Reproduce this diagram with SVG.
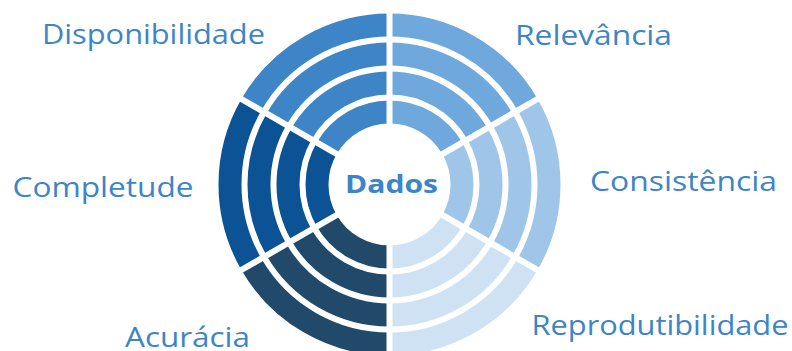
<svg xmlns="http://www.w3.org/2000/svg" width="792" height="351" viewBox="0 0 792 351">
  <style>
    .lbl { font-family: "Open Sans", "Liberation Sans", sans-serif; font-size: 27px; fill: #3d85c6; }
    .ctr { font-family: "Open Sans", "Liberation Sans", sans-serif; font-size: 25px; font-weight: bold; fill: #3d85c6; }
    .ring { fill: none; stroke-width: 23; stroke-linecap: butt; }
  </style>
  <defs>
    <mask id="gaps" maskUnits="userSpaceOnUse" x="0" y="0" width="792" height="351">
      <rect x="0" y="0" width="792" height="351" fill="#fff"/>
      <g stroke="#000" stroke-width="6">
        <line x1="389.5" y1="-10" x2="389.5" y2="370"/>
        <line x1="562.7" y1="84.5" x2="216.3" y2="284.5"/>
        <line x1="562.7" y1="284.5" x2="216.3" y2="84.5"/>
      </g>
    </mask>
  </defs>
  <rect x="0" y="0" width="792" height="351" fill="#ffffff"/>
  <g id="sectors" mask="url(#gaps)">
    <g id="relevancia" class="ring" stroke="#6fa8dc">
      <path d="M389.5,25 A159.5,159.5 0 0 1 527.63,104.75"/>
      <path d="M389.5,54 A130.5,130.5 0 0 1 502.52,119.25"/>
      <path d="M389.5,83 A101.5,101.5 0 0 1 477.40,133.75"/>
      <path d="M389.5,112 A72.5,72.5 0 0 1 452.29,148.25"/>
    </g>
    <g id="consistencia" class="ring" stroke="#9fc5e8">
      <path d="M527.63,104.75 A159.5,159.5 0 0 1 527.63,264.25"/>
      <path d="M502.52,119.25 A130.5,130.5 0 0 1 502.52,249.75"/>
      <path d="M477.40,133.75 A101.5,101.5 0 0 1 477.40,235.25"/>
      <path d="M452.29,148.25 A72.5,72.5 0 0 1 452.29,220.75"/>
    </g>
    <g id="reprodutibilidade" class="ring" stroke="#cfe2f3">
      <path d="M527.63,264.25 A159.5,159.5 0 0 1 389.5,344"/>
      <path d="M502.52,249.75 A130.5,130.5 0 0 1 389.5,315"/>
      <path d="M477.40,235.25 A101.5,101.5 0 0 1 389.5,286"/>
      <path d="M452.29,220.75 A72.5,72.5 0 0 1 389.5,257"/>
    </g>
    <g id="acuracia" class="ring" stroke="#214a6a">
      <path d="M389.5,344 A159.5,159.5 0 0 1 251.37,264.25"/>
      <path d="M389.5,315 A130.5,130.5 0 0 1 276.48,249.75"/>
      <path d="M389.5,286 A101.5,101.5 0 0 1 301.60,235.25"/>
      <path d="M389.5,257 A72.5,72.5 0 0 1 326.71,220.75"/>
    </g>
    <g id="completude" class="ring" stroke="#0b5394">
      <path d="M251.37,264.25 A159.5,159.5 0 0 1 251.37,104.75"/>
      <path d="M276.48,249.75 A130.5,130.5 0 0 1 276.48,119.25"/>
      <path d="M301.60,235.25 A101.5,101.5 0 0 1 301.60,133.75"/>
      <path d="M326.71,220.75 A72.5,72.5 0 0 1 326.71,148.25"/>
    </g>
    <g id="disponibilidade" class="ring" stroke="#3d85c6">
      <path d="M251.37,104.75 A159.5,159.5 0 0 1 389.5,25"/>
      <path d="M276.48,119.25 A130.5,130.5 0 0 1 389.5,54"/>
      <path d="M301.60,133.75 A101.5,101.5 0 0 1 389.5,83"/>
      <path d="M326.71,148.25 A72.5,72.5 0 0 1 389.5,112"/>
    </g>
  </g>
  <g id="labels">
    <text id="t-disponibilidade" class="lbl" x="42" y="43.5" textLength="223" lengthAdjust="spacingAndGlyphs">Disponibilidade</text>
    <text id="t-relevancia" class="lbl" x="515" y="44.5" textLength="157" lengthAdjust="spacingAndGlyphs">Relevância</text>
    <text id="t-consistencia" class="lbl" x="590" y="190.5" textLength="187" lengthAdjust="spacingAndGlyphs">Consistência</text>
    <text id="t-completude" class="lbl" x="12.5" y="196.5" textLength="181" lengthAdjust="spacingAndGlyphs">Completude</text>
    <text id="t-reprodutibilidade" class="lbl" x="531.5" y="335" textLength="257" lengthAdjust="spacingAndGlyphs">Reprodutibilidade</text>
    <text id="t-acuracia" class="lbl" x="125" y="346.5" textLength="125" lengthAdjust="spacingAndGlyphs">Acurácia</text>
    <text id="t-dados" class="ctr" x="345" y="192.5" textLength="93" lengthAdjust="spacingAndGlyphs">Dados</text>
  </g>
</svg>
